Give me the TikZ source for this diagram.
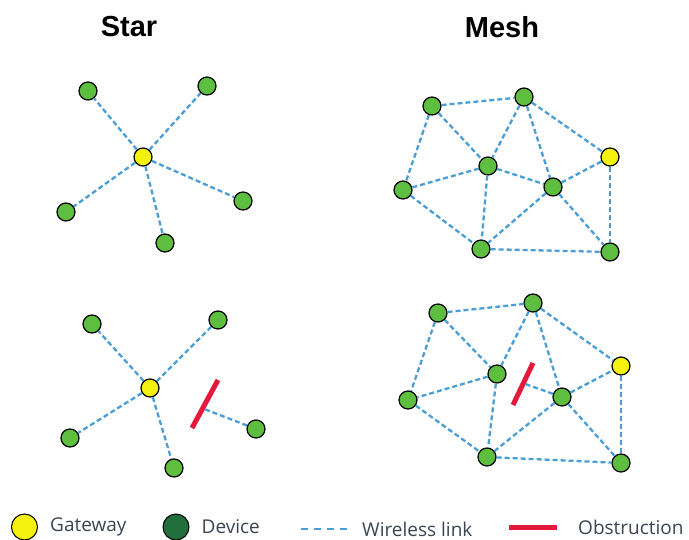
\documentclass[tikz,border=0pt]{standalone}
\usepackage{fontspec}
\setmainfont{Open Sans}
\setsansfont{Liberation Sans}
\usetikzlibrary{positioning,calc}

\definecolor{devgreen}{HTML}{5DBE3F}
\definecolor{gwyellow}{HTML}{F4F10F}
\definecolor{linkblue}{HTML}{4A9ED6}
\definecolor{obsred}{HTML}{E4193B}
\definecolor{legdark}{HTML}{1F6E3B}
\definecolor{legtext}{HTML}{3C4452}

\begin{document}
\begin{tikzpicture}[x=1pt, y=-1pt,
	dev/.style={circle, draw=black, line width=1.2pt, fill=devgreen, minimum size=18pt, inner sep=0pt},
	gw/.style={dev, fill=gwyellow},
	link/.style={draw=linkblue, line width=2.3pt, dash pattern=on 5pt off 3pt},
	obs/.style={draw=obsred, line width=5pt},
	title/.style={font=\sffamily\bfseries\fontsize{29}{34}\selectfont},
	legend/.style={font=\fontsize{19}{22}\selectfont, text=legtext, anchor=west, inner sep=0pt}]
	\useasboundingbox (0,0) rectangle (689,540);
	\node[title] (startitle) at (129,27) {Star};
	\node[title] (meshtitle) at (502,27) {Mesh};
	% star, all links reach the gateway
	\node[gw] (sg) at (143,157) {};
	\foreach \n/\x/\y in {1/88/91, 2/207/86, 3/243/201, 4/165/243, 5/66/212} {
		\node[dev] (s\n) at (\x,\y) {};
		\draw[link] (sg) -- (s\n);
	}
	% star with one link blocked
	\node[gw] (bg) at (150,388) {};
	\foreach \n/\x/\y in {1/92/324, 2/218/320, 4/174/468, 5/70/438} {
		\node[dev] (b\n) at (\x,\y) {};
		\draw[link] (bg) -- (b\n);
	}
	\node[dev] (b3) at (256,429) {};
	\coordinate (bo1) at (192,428);
	\coordinate (bo2) at (218,380);
	\draw[obs] (bo1) -- (bo2);
	\draw[link] (b3) -- ($(b3)!0.5!(bg)$);
	% mesh
	\node[gw] (tC) at (610,157) {};
	\foreach \n/\x/\y in {A/432/106, B/524/97, D/488/166, E/553/187, F/403/190, G/481/249, H/610/252}
		\node[dev] (t\n) at (\x,\y) {};
	\foreach \a/\b in {A/B, A/F, A/D, B/D, B/E, B/C, D/F, D/E, D/G, F/G, E/G, E/C, E/H, C/H, G/H}
		\draw[link] (t\a) -- (t\b);
	% mesh with one link blocked
	\node[gw] (mC) at (621,366) {};
	\foreach \n/\x/\y in {A/438/313, B/533/303, D/497/374, E/562/397, F/408/400, G/487/457, H/621/463}
		\node[dev] (m\n) at (\x,\y) {};
	\foreach \a/\b in {A/B, A/F, A/D, B/D, B/E, B/C, D/F, D/G, F/G, E/G, E/C, E/H, C/H, G/H}
		\draw[link] (m\a) -- (m\b);
	\coordinate (mo1) at (513,405);
	\coordinate (mo2) at (533,363);
	\draw[obs] (mo1) -- (mo2);
	\draw[link] (mE) -- ($(mE)!0.6!(mD)$);
	% legend
	\node[gw, minimum size=26pt, line width=1pt] (leggw) at (24.5,527) {};
	\node[legend, right=12pt of leggw] (leggwtxt) {Gateway};
	\node[dev, fill=legdark, minimum size=26pt, line width=1pt] (legdev) at (176,527) {};
	\node[legend, right=12pt of legdev] (legdevtxt) {Device};
	\coordinate (lk1) at (301,529);
	\coordinate (lk2) at (348,529);
	\draw[draw=linkblue, line width=1.8pt, dash pattern=on 7pt off 6pt] (lk1) -- (lk2);
	\node[legend, right=14pt of lk2] (leglktxt) {Wireless link};
	\coordinate (lo1) at (509,527);
	\coordinate (lo2) at (557,527);
	\draw[obs] (lo1) -- (lo2);
	\node[legend, right=21pt of lo2] (legobstxt) {Obstruction};
\end{tikzpicture}
\end{document}
